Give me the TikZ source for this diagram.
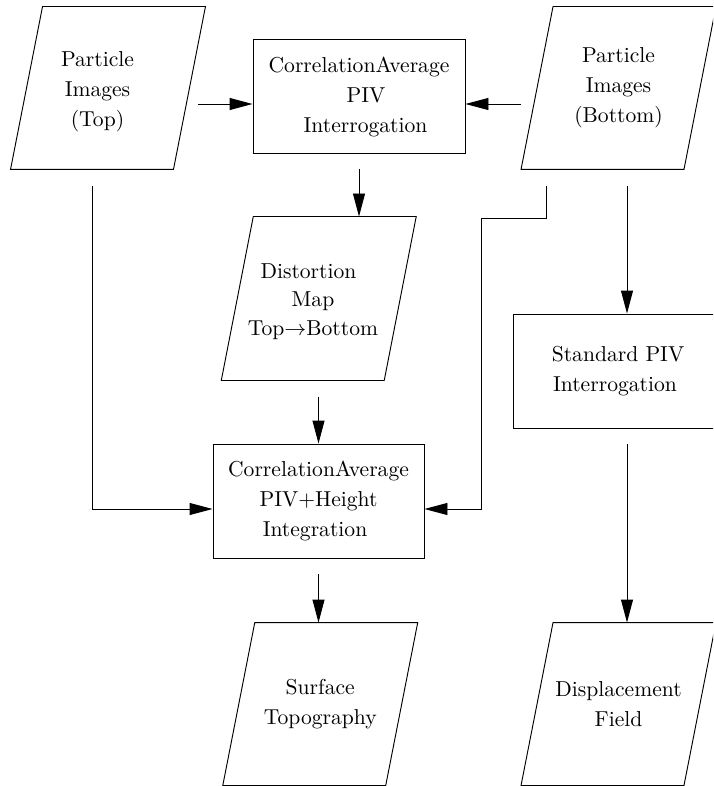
\documentclass[tikz,border=0pt]{standalone}
\usetikzlibrary{arrows.meta,calc}
\newcommand\diafont{\fontsize{10.8pt}{15pt}\selectfont}
\newcommand\diafonttight{\fontsize{10.8pt}{14.25pt}\selectfont}
\begin{document}
\begin{tikzpicture}[x=0.5pt,y=-0.5pt,
  line width=0.47pt,
  every node/.style={font=\diafont, align=center, inner sep=0pt},
  procbox/.style={draw, rectangle, minimum width=106pt, minimum height=57pt},
  databox/.style={rectangle, minimum width=81pt, minimum height=81pt},
  arr/.style={-{Triangle[length=11.5pt,width=6pt]}}]
\useasboundingbox (0,0) rectangle (713,786);
\clip (0,0) rectangle (713,786);

% nodes
\node[databox, label={[name=ptlab, xshift=-5.25pt, yshift=-2.1pt]center:Particle\\Images\\(Top)}] (pt) at (108,88) {};
\node[databox] (pb) at (618.5,88) {Particle\\Images\hspace*{3.5pt}\\(Bottom)};
\node[procbox] (box1) at (359,96.5) {CorrelationAverage\\\hspace*{7pt}PIV\\\hspace*{6.5pt}Interrogation};
\node[databox, minimum height=81.5pt, label={[name=distlab, font=\diafonttight, xshift=-2.9pt, yshift=-1.55pt]center:Distortion\hspace*{4.5pt}\\Map\\Top$\rightarrow$Bottom}] (dist) at (318.75,298.5) {};
\node[procbox, minimum width=105pt] (box3) at (618,371) {Standard PIV\\Interrogation\hspace*{3pt}};
\node[procbox, minimum width=105.5pt] (box2) at (318.5,501) {CorrelationAverage\\PIV+Height\hspace*{10.5pt}\\Integration\hspace*{3.5pt}};
\node[databox] (surf) at (320.25,704) {Surface\\Topography};
\node[databox] (disp) at (618.5,704) {Displacement\\Field};

% parallelogram outlines
\foreach \n in {pt,pb,dist,surf,disp}
  \draw ([xshift=8pt]\n.north west) -- ([xshift=8pt]\n.north east)
     -- ([xshift=-8pt]\n.south east) -- ([xshift=-8pt]\n.south west) -- cycle;

% connectors
\coordinate (s1) at (198,104);
\draw[arr] (s1) -- (s1 -| box1.west);
\coordinate (s2) at (521,104);
\draw[arr] (s2) -- (s2 -| box1.east);
\coordinate (s3) at (359,169);
\draw[arr] (s3) -- (s3 |- dist.north);
\coordinate (s4) at (318.5,397);
\draw[arr] (s4) -- (s4 |- box2.north);
\coordinate (s5) at (92,186);
\coordinate (j5) at (92,509);
\draw[arr] (s5) -- (j5) -- (j5 -| box2.west);
\coordinate (s6) at (546,186);
\coordinate (j6a) at (546,218);
\coordinate (j6b) at (481,218);
\coordinate (j6c) at (481,509);
\draw[arr] (s6) -- (j6a) -- (j6b) -- (j6c) -- (j6c -| box2.east);
\coordinate (s7) at (627,186);
\draw[arr] (s7) -- (s7 |- box3.north);
\coordinate (s8) at (627,444);
\draw[arr] (s8) -- (s8 |- disp.north);
\coordinate (s9) at (318.5,574);
\draw[arr] (s9) -- (s9 |- surf.north);
\end{tikzpicture}
\end{document}
